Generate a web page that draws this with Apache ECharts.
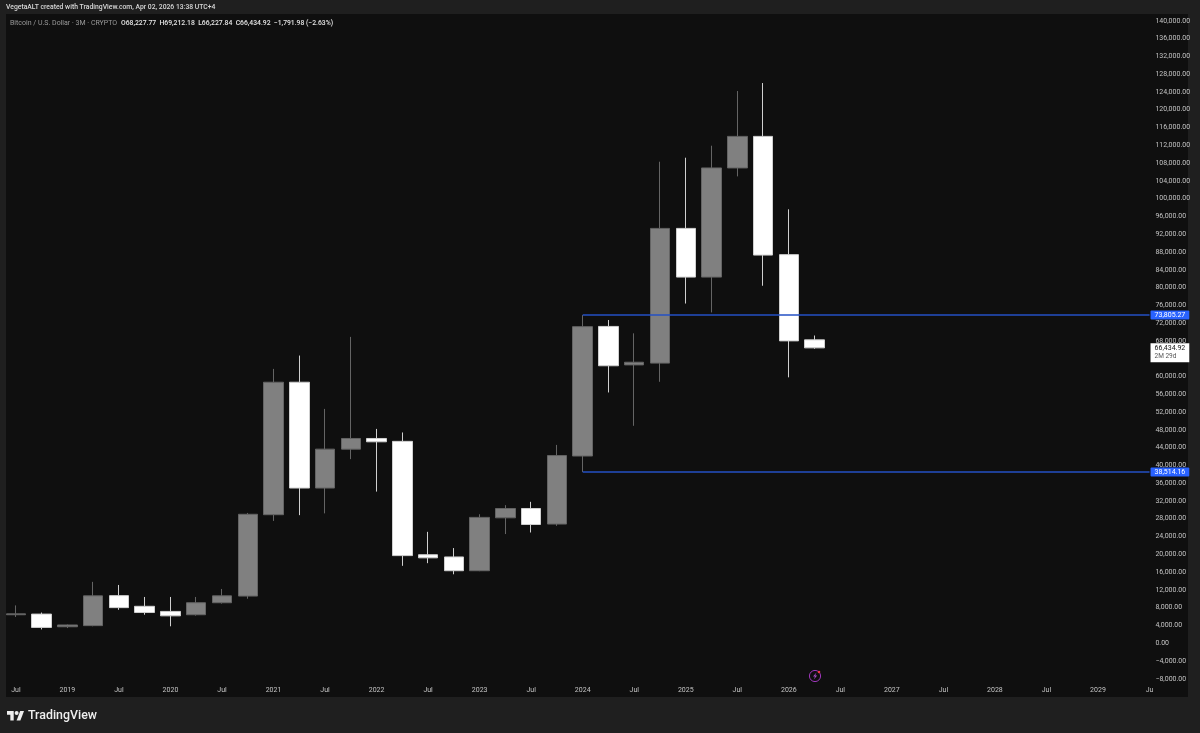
<!DOCTYPE html>
<html>
<head>
<meta charset="utf-8">
<style>html,body{margin:0;padding:0;background:#1f1f1f}#c{width:1200px;height:733px}</style>
<script src="https://cdn.jsdelivr.net/npm/echarts@6/dist/echarts.min.js"></script>
</head>
<body>
<div id="c"></div>
<script>
// Tick labels along the time axis, one per quarter
const quarterLabels = ['Jul','','2019','','Jul','','2020','','Jul','','2021','','Jul','','2022','','Jul','','2023','','Jul','','2024','','Jul','','2025','','Jul','','2026','','Jul','','2027','','Jul','','2028','','Jul','','2029','','Ju'];
// Quarterly OHLC, values in USD thousands
const opens  = [6.4,6.55,3.7,3.95,10.7,8.3,7.15,6.4,9.1,10.6,28.9,58.7,34.9,43.65,46.05,45.4,19.9,19.4,16.3,28.2,30.3,26.8,42.1,71.25,62.6,63.0,93.3,82.35,106.9,114.0,87.4,68.23];
const closes = [6.6,3.55,4.1,10.65,8.0,6.9,6.15,9.1,10.65,29.0,58.7,34.9,43.65,46.05,45.3,19.7,19.2,16.3,28.3,30.3,26.7,42.2,71.2,62.4,63.2,93.3,82.35,106.9,114.0,87.3,68.0,66.43];
const lows   = [5.9,3.1,3.4,3.8,7.5,6.4,3.8,6.2,8.9,10.0,27.5,28.8,29.2,41.4,34.1,17.4,18.0,15.5,16.2,24.55,24.9,26.4,38.51,56.4,48.9,58.8,76.4,74.4,105.0,80.4,59.8,66.23];
const highs  = [8.5,6.9,4.2,13.8,13.1,10.4,10.4,10.4,12.2,29.3,61.7,64.7,52.7,68.9,48.2,47.4,25.05,21.4,29.0,31.05,31.8,44.6,73.81,72.7,69.7,108.3,109.2,111.9,124.2,126.0,97.6,69.21];
// Horizontal levels and last price
const levelHigh = 73805.27;
const levelLow = 38514.16;
const lastPrice = 66434.92;
const levelStartIndex = 22;
const titleLine = 'VegetaALT created with TradingView.com, Apr 02, 2026 13:38 UTC+4';
const symbolLine = 'Bitcoin / U.S. Dollar · 3M · CRYPTO';
const ohlcLine = 'O68,227.77  H69,212.18  L66,227.84  C66,434.92  −1,791.98 (−2.63%)';

const categories = quarterLabels.map((_, i) => 'q' + i);
const candleData = opens.map((o, i) => [o * 1000, closes[i] * 1000, lows[i] * 1000, highs[i] * 1000]);
const money = v => v.toLocaleString('en-US', {minimumFractionDigits: 2, maximumFractionDigits: 2});
const lastIndex = quarterLabels.length - 1;
const font = 'Roboto, "Liberation Sans", sans-serif';

function levelLine(v) {
  return [
    {coord: [levelStartIndex, v], lineStyle: {color: '#2450c4', width: 1.5, type: 'solid'},
     label: {show: true, position: 'end', distance: 1, formatter: money(v), color: '#fff', fontSize: 7, fontFamily: font,
             backgroundColor: '#2962ff', padding: [1, 4, 1, 4], borderRadius: 1}},
    {coord: [lastIndex, v]}
  ];
}

const chart = echarts.init(document.getElementById('c'), null, {renderer: 'canvas'});
chart.setOption({
  animation: false,
  backgroundColor: '#1f1f1f',
  grid: {left: 3, right: 37.6, top: 3, height: 693.55, containLabel: false},
  xAxis: {
    type: 'category', data: categories, boundaryGap: true, z: 1,
    axisLine: {show: false}, axisTick: {show: false}, splitLine: {show: false},
    axisLabel: {inside: true, interval: 0, margin: 3, color: '#c4c4c4', fontSize: 7, fontFamily: font,
                showMinLabel: true, showMaxLabel: true, hideOverlap: false,
                formatter: (v, i) => quarterLabels[i]}
  },
  yAxis: {
    type: 'value', position: 'right', min: -12000, max: 144000, interval: 4000, scale: false, z: 1,
    axisLine: {show: false}, axisTick: {show: false}, splitLine: {show: false},
    axisLabel: {margin: -7, align: 'left', color: '#c4c4c4', fontSize: 7, fontFamily: font,
                formatter: v => (v === -12000 || v === 144000) ? '' : (v < 0 ? '−' + money(-v) : money(v))}
  },
  series: [{
    type: 'candlestick', data: candleData, barWidth: 20, z: 2, clip: false,
    itemStyle: {color: '#808080', color0: '#ffffff', borderColor: '#646464', borderColor0: '#cfcfcf', borderWidth: 1},
    markLine: {
      silent: true, symbol: 'none', animation: false, precision: 2,
      data: [
        levelLine(levelHigh),
        levelLine(levelLow),
        [
          {coord: [31, lastPrice], lineStyle: {color: 'rgba(0,0,0,0)', width: 0.01},
           label: {show: true, position: 'end', distance: 1, offset: [0, 5],
                   formatter: '{a|' + money(lastPrice) + '}\n{b|2M 29d}', backgroundColor: '#fff', padding: [1, 4, 1, 4],
                   rich: {a: {color: '#131313', fontSize: 7, fontFamily: font, lineHeight: 8, align: 'left'},
                          b: {color: '#555', fontSize: 6.5, fontFamily: font, lineHeight: 9, align: 'left'}}}},
          {coord: [lastIndex, lastPrice]}
        ]
      ]
    }
  }],
  graphic: {elements: [
    {type: 'rect', silent: true, z: -5, shape: {x: 6, y: 14, width: 1182, height: 683}, style: {fill: '#0f0f0f'}},
    {type: 'text', silent: true, z: 10, x: 6, y: 4, style: {text: titleLine, fill: '#d8d8d8', font: '500 6.8px ' + font}},
    {type: 'text', silent: true, z: 10, x: 10, y: 20, style: {text: symbolLine, fill: '#9a9a9a', font: '7px ' + font}},
    {type: 'text', silent: true, z: 10, x: 121, y: 20, style: {text: ohlcLine, fill: '#e6e6e6', font: '500 6.8px ' + font}},
    {type: 'polygon', silent: true, z: 10, shape: {points: [[13.7,720.5],[10.35,720.5],[10.35,714.7],[7,714.7],[7,711],[13.7,711]]}, style: {fill: '#eeeeee'}},
    {type: 'polygon', silent: true, z: 10, shape: {points: [[20.4,720.5],[16.6,720.5],[20.2,711],[24,711]]}, style: {fill: '#eeeeee'}},
    {type: 'circle', silent: true, z: 10, shape: {cx: 16.6, cy: 713.1, r: 2}, style: {fill: '#eeeeee'}},
    {type: 'text', silent: true, z: 10, x: 28, y: 709.5, style: {text: 'TradingView', fill: '#eeeeee', font: '500 12.4px ' + font}},
    {type: 'circle', silent: true, z: 10, shape: {cx: 815, cy: 676, r: 5.6}, style: {fill: 'transparent', stroke: '#9c37b8', lineWidth: 1}},
    {type: 'polygon', silent: true, z: 10, shape: {points: [[816.5,672.5],[813,676.6],[815,676.6],[813.8,679.5],[817.2,675.4],[815.2,675.4]]}, style: {fill: '#a64cc4'}},
    {type: 'circle', silent: true, z: 11, shape: {cx: 819, cy: 672, r: 1.3}, style: {fill: '#f23645'}}
  ]}
});
</script>
</body>
</html>
